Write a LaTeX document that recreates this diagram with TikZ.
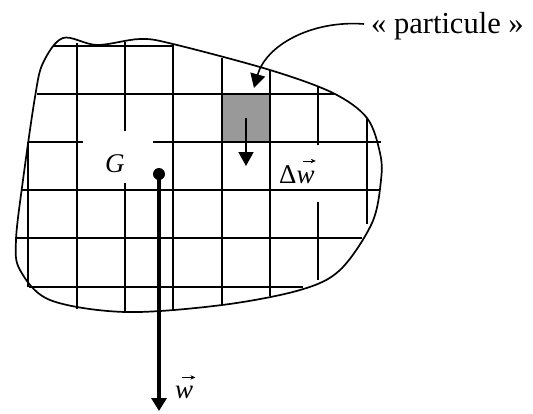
\documentclass[tikz,border=0pt]{standalone}
\usepackage{fontspec}
\setmainfont{Liberation Serif}
\usetikzlibrary{arrows.meta}
\begin{document}
\begin{tikzpicture}[x=1bp,y=-1bp,line join=round,
  gridline/.style={line width=1.6bp},
  outline/.style={line width=1.7bp},
  lbl/.style={inner sep=0pt,font=\fontsize{27bp}{30bp}\selectfont,anchor=base west},
  thinarrow/.style={line width=1.6bp,-{Triangle[length=14bp,width=15bp]}},
  heavyarrow/.style={line width=4bp,-{Triangle[length=13bp,width=15bp]}},
  vecarrow/.style={line width=0.9bp,-{Stealth[length=5bp,width=4.5bp]}}]
\useasboundingbox (0,0) rectangle (533,413);
% shaded particle
\node[draw=none,fill=black!40,minimum width=48bp,minimum height=48bp,inner sep=0pt] (sq) at (246,118) {};
% grid
\foreach \x/\ya/\yb in {28/142/287, 77/43/309, 125/42/131, 125/183/312, 173/44/311,
  222/58/306, 270/70/296, 318/87/145, 318/202/280, 367/118/224}
  \draw[gridline] (\x,\ya) -- (\x,\yb);
\foreach \y/\xa/\xb in {46/53/173, 94/37/335, 142/28/83, 142/153/381, 190/22/379,
  238/15/362, 287/29/303}
  \draw[gridline] (\xa,\y) -- (\xb,\y);
% outline
\draw[outline] plot[smooth cycle,tension=0.55] coordinates {
  (173,44) (270,70) (333,93) (367,118) (380,153) (381,180) (372,223) (340,270)
  (300,290) (222,305) (125,312) (50,300) (20,270) (16,240) (23,180) (35,97)
  (43,63) (63,38) (97,45) (140,39)};
% labels
\node[lbl,font=\fontsize{30.5bp}{33bp}\selectfont] (part) at (371,33) {« particule »};
\node[lbl] (G) at (105,172) {\itshape G};
\node[lbl] (dw) at (279,183) {Δ\textit{w}};
\node[lbl] (w) at (175,398) {\textit{w}};
% vector arrows over w
\draw[vecarrow] ([shift={(-12,-4)}]dw.north east) -- ([shift={(1,-4)}]dw.north east);
\draw[vecarrow] ([shift={(-11,-8)}]w.north east) -- ([shift={(2,-8)}]w.north east);
% curved pointer
\coordinate (pstart) at (364,24);
\coordinate (ptip) at (254,88);
\draw[thinarrow] (pstart) .. controls (312,20) and (266,45) .. (ptip);
% particle weight
\coordinate (dwend) at (246,166);
\draw[thinarrow] (sq.center) -- (dwend);
% total weight
\node[circle,fill=black,inner sep=0pt,minimum size=12bp] (Gdot) at (159,174) {};
\coordinate (wend) at (159,411);
\draw[heavyarrow] (Gdot.center) -- (wend);
\end{tikzpicture}
\end{document}
